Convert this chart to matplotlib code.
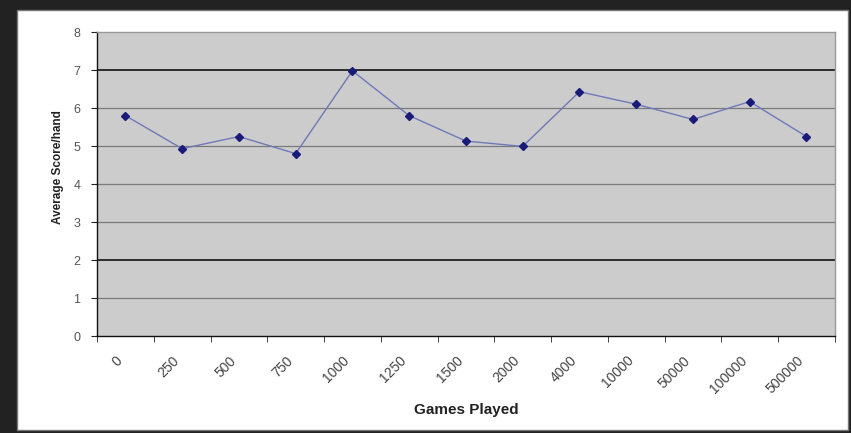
import matplotlib.pyplot as plt
from matplotlib.patches import Rectangle
from matplotlib.transforms import ScaledTranslation
import numpy as np

games = ["0", "250", "500", "750", "1000", "1250", "1500", "2000",
         "4000", "10000", "50000", "100000", "500000"]
avg_score = [5.80, 4.93, 5.25, 4.80, 6.98, 5.80, 5.13, 4.99,
             6.43, 6.10, 5.70, 6.17, 5.25]
y_ticks = [0, 1, 2, 3, 4, 5, 6, 7, 8]

plt.rcParams["font.family"] = ["Liberation Sans", "DejaVu Sans"]

fig = plt.figure(figsize=(8.51, 4.33), dpi=100, facecolor="#222222")
# white chart frame behind the axes
frame = Rectangle((0.020, 0.006), 0.977, 0.971, transform=fig.transFigure,
                  facecolor="white", edgecolor="#777777", linewidth=1.0, zorder=-10)
fig.add_artist(frame)
ax = fig.add_axes([0.114, 0.224, 0.867, 0.702])
ax.set_facecolor("#cccccc")

x = np.arange(len(games))
ax.plot(x, avg_score, color="#7078b8", linewidth=1.0, marker="D", markersize=4,
        markerfacecolor="#1a1a78", markeredgecolor="#1a1a78", zorder=3)

for v in y_ticks[1:-1]:
    dark = v in (2, 7)
    ax.axhline(v, color="#111111" if dark else "#7a7a7a",
               linewidth=1.2 if dark else 0.9, zorder=1)

ax.set_xlim(-0.5, len(games) - 0.5)
ax.set_ylim(0, 8)
ax.set_yticks(y_ticks)
ax.set_yticklabels([str(v) for v in y_ticks], color="#555555", fontsize=9)
ax.set_xticks(x)
ax.set_xticklabels(games, rotation=45, ha="right", rotation_mode="anchor",
                   color="#444444", fontsize=10)
ax.set_xticks(np.arange(len(games) + 1) - 0.5, minor=True)
ax.tick_params(axis="x", which="major", length=0, pad=12.5)
ax.tick_params(axis="x", which="minor", length=4, direction="out", color="#222222")
ax.tick_params(axis="y", length=4, direction="out", color="#222222", pad=8)
# Excel puts the rotated labels a little left of the category centre
shift = ScaledTranslation(-0.10, 0, fig.dpi_scale_trans)
for lbl in ax.get_xticklabels():
    lbl.set_transform(lbl.get_transform() + shift)

for side in ("top", "right"):
    ax.spines[side].set_color("#999999")
    ax.spines[side].set_linewidth(1.0)
for side in ("left", "bottom"):
    ax.spines[side].set_color("#111111")
    ax.spines[side].set_linewidth(1.0)

ax.set_xlabel("Games Played", fontsize=11, fontweight="bold", color="#222222")
ax.xaxis.set_label_coords(0.50, -0.22)
ax.set_ylabel("Average Score/hand", fontsize=8.5, fontweight="bold", color="#222222")
ax.yaxis.set_label_coords(-0.045, 0.556)

fig.savefig("out.png", dpi=100, facecolor=fig.get_facecolor())
